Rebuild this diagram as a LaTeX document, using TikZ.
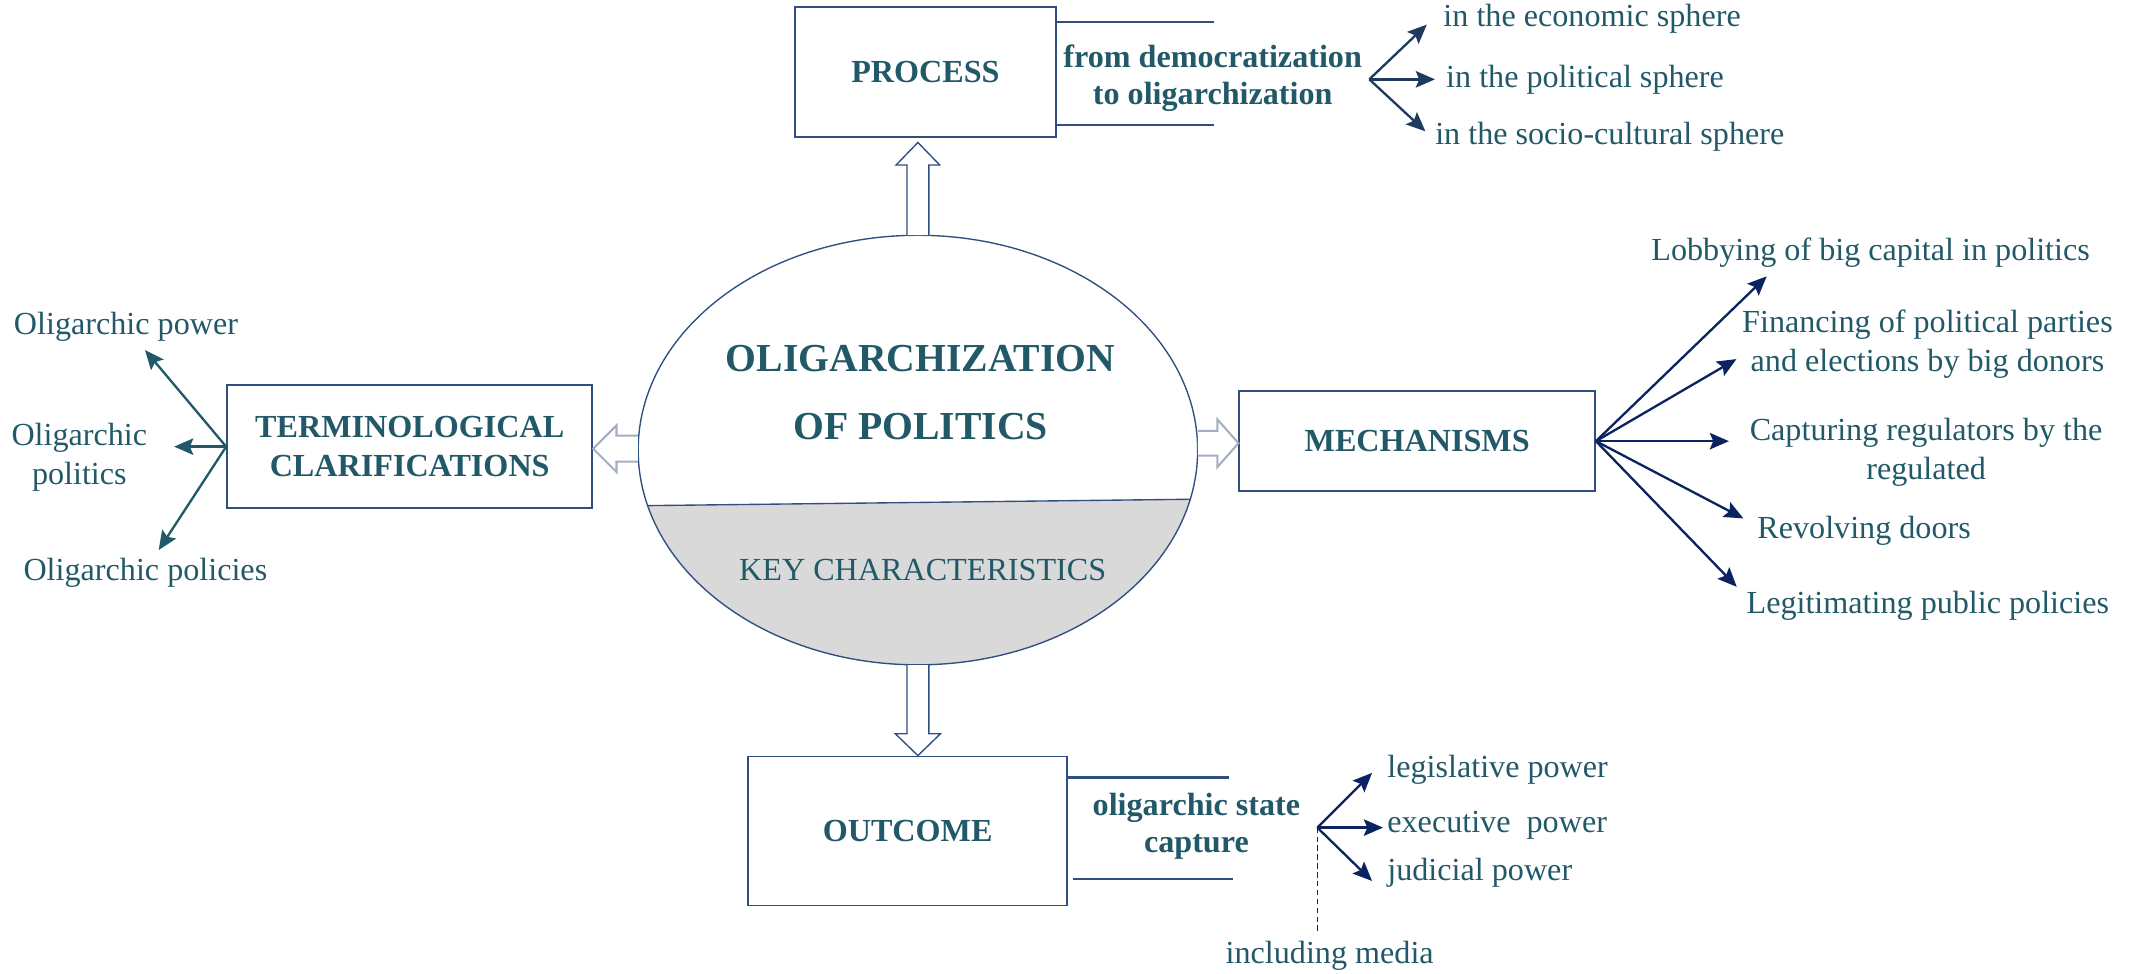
\documentclass[tikz,border=0pt]{standalone}
\usepackage{fontspec}
\setmainfont{Liberation Serif}
\usetikzlibrary{calc}
\usetikzlibrary{arrows.meta}
\usetikzlibrary{shapes.geometric}
\definecolor{tealtext}{HTML}{215968}
\definecolor{boxblue}{HTML}{2F4F80}
\definecolor{navyarr}{HTML}{0B2461}
\definecolor{slatearr}{HTML}{1F3A5F}
\definecolor{keygray}{HTML}{D9D9D9}
\definecolor{hollowgray}{HTML}{A3AFC0}

\begin{document}
\begin{tikzpicture}[x=1pt, y=-1pt,
 box/.style={draw=boxblue, line width=1.3pt, align=center, inner sep=0, text=tealtext, font=\fontsize{23.5}{28.5}\selectfont\bfseries},
 lbl/.style={inner sep=0, text=tealtext, align=center, font=\fontsize{23.5}{28.5}\selectfont},
 blbl/.style={lbl, font=\fontsize{23.5}{27}\selectfont\bfseries},
 arr/.style={line width=1.7pt, -{Stealth[length=14pt, width=12pt, inset=2.5pt]}},
 bar/.style={boxblue, line width=1.6pt},
 hollow/.style={draw=#1, fill=white, line width=1pt, line join=miter}]
\useasboundingbox (0,0) rectangle (1560,712);

\node[ellipse, minimum width=409, minimum height=314, inner sep=0] (core) at (671,329) {};
\begin{scope}
\clip (core.center) ellipse [x radius=204.5, y radius=157];
\fill[keygray] ($(core.west)+(0,40.7)$) -- ($(core.east)+(0,35.9)$) -- ($(core.east)+(0,200)$) -- ($(core.west)+(0,200)$) -- cycle;
\draw[boxblue, line width=1pt] ($(core.west)+(0,40.7)$) -- ($(core.east)+(0,35.9)$);
\end{scope}
\draw[boxblue, line width=1pt] (core.center) ellipse [x radius=204.5, y radius=157];
\node[lbl, font=\fontsize{29}{50}\selectfont\bfseries] (title) at (673,287) {OLIGARCHIZATION\\OF POLITICS};
\node[lbl] (key) at (674.5,417) {KEY CHARACTERISTICS};

\node[box, minimum width=191, minimum height=95] (proc) at (676.5,52.5) {PROCESS};
\node[box, minimum width=267, minimum height=90] (term) at (299.5,326.5) {TERMINOLOGICAL\\CLARIFICATIONS};
\node[box, minimum width=260, minimum height=73] (mech) at (1036,322.5) {MECHANISMS};
\node[box, minimum width=233, minimum height=109] (out) at (663.5,607.5) {OUTCOME};

\draw[hollow=boxblue] ($(core.north)+(-8,0)$) -- ($(core.north |- proc.south)+(-8,20)$) -- ++(-8,0) -- ($(core.north |- proc.south)+(0,3.5)$) -- ($(core.north |- proc.south)+(16,20)$) -- ++(-8,0) -- ($(core.north)+(8,0)$);
\draw[hollow=boxblue] ($(core.south)+(-8,0)$) -- ($(core.south |- out.north)+(-8,-16)$) -- ++(-8.5,0) -- (core.south |- out.north) -- ($(core.south |- out.north)+(16.5,-16)$) -- ++(-8.5,0) -- ($(core.south)+(8,0)$);
\draw[hollow=hollowgray, line width=1.5pt] ($(core.west)+(0,-10.5)$) -- ($(term.east |- core.west)+(17,-10.5)$) -- ++(0,-7.5) -- ($(term.east |- core.west)+(0,-1)$) -- ($(term.east |- core.west)+(17,16)$) -- ++(0,-7.5) -- ($(core.west)+(0,8.5)$);
\draw[hollow=hollowgray, line width=1.5pt] ($(core.east |- mech.west)+(0,-7.5)$) -- ($(mech.west)+(-15.5,-7.5)$) -- ++(0,-8.5) -- ($(mech.west)+(0,1.5)$) -- ($(mech.west)+(-15.5,19)$) -- ++(0,-8.5) -- ($(core.east |- mech.west)+(0,10.5)$);

\draw[bar] ($(proc.north east)+(0,12)$) -- ++(115,0);
\draw[bar] ($(proc.south east)+(0,-9)$) -- ++(115,0);
\node[blbl] (dem) at (886.5,57) {from democratization\\to oligarchization};
\coordinate (pfork) at (1001,58);
\node[lbl, anchor=west] (eco) at (1055,14) {in the economic sphere};
\node[lbl, anchor=west] (pol) at (1057,58) {in the political sphere};
\node[lbl, anchor=west] (soc) at (1049,100) {in the socio-cultural sphere};
\draw[arr, slatearr] (pfork) -- ($(eco.west)+(-12,4)$);
\draw[arr, slatearr] (pfork) -- ($(pol.west)+(-8,0)$);
\draw[arr, slatearr] (pfork) -- ($(soc.west)+(-7,-4)$);

\node[lbl, anchor=west] (lpow) at (10,239) {Oligarchic power};
\node[lbl] (lpol) at (58,334) {Oligarchic\\politics};
\node[lbl, anchor=west] (lpcy) at (17,419) {Oligarchic policies};
\draw[arr, tealtext] (term.west) -- ($(lpow.south west)+(96,6)$);
\draw[arr, tealtext] (term.west) -- ($(lpol.east |- term.west)+(19.5,0)$);
\draw[arr, tealtext] (term.west) -- ($(lpcy.north west)+(99,-6)$);

\node[lbl, anchor=west] (lob) at (1207,185) {Lobbying of big capital in politics};
\node[lbl] (fin) at (1409,251.5) {Financing of political parties\\and elections by big donors};
\node[lbl] (cap) at (1408,330.5) {Capturing regulators by the\\regulated};
\node[lbl, anchor=west] (rev) at (1284.5,388) {Revolving doors};
\node[lbl, anchor=west] (legit) at (1276.6,443) {Legitimating public policies};
\draw[arr, navyarr] (mech.east) -- ($(lob.south west)+(84.5,6)$);
\draw[arr, navyarr] (mech.east) -- ($(fin.west)+(-4,11)$);
\draw[arr, navyarr] (mech.east) -- ($(cap.west |- mech.east)+(-15,0)$);
\draw[arr, navyarr] (mech.east) -- ($(rev.west)+(-10,-9)$);
\draw[arr, navyarr] (mech.east) -- ($(legit.west)+(-7,-14)$);

\draw[bar] ($(out.north east)+(0,16)$) -- ++(118,0);
\draw[bar] ($(out.south east)+(4,-20)$) -- ++(117,0);
\node[blbl] (osc) at (874.6,604) {oligarchic state\\capture};
\coordinate (ofork) at (963,605);
\node[lbl, anchor=west] (legis) at (1014,563) {legislative power};
\node[lbl, anchor=west] (exec) at (1014,603) {executive\ \ power};
\node[lbl, anchor=west] (jud) at (1014,638) {judicial power};
\node[lbl] (media) at (972,699) {including media};
\draw[arr, navyarr] (ofork) -- ($(legis.west)+(-11,2)$);
\draw[arr, navyarr] (ofork) -- ($(exec.west |- ofork)+(-3,0)$);
\draw[arr, navyarr] (ofork) -- ($(jud.west)+(-11,6)$);
\draw[navyarr, dash pattern=on 4pt off 2.5pt, line width=1pt] (ofork) -- ($(media.north -| ofork)+(0,-7)$);
\end{tikzpicture}
\end{document}
